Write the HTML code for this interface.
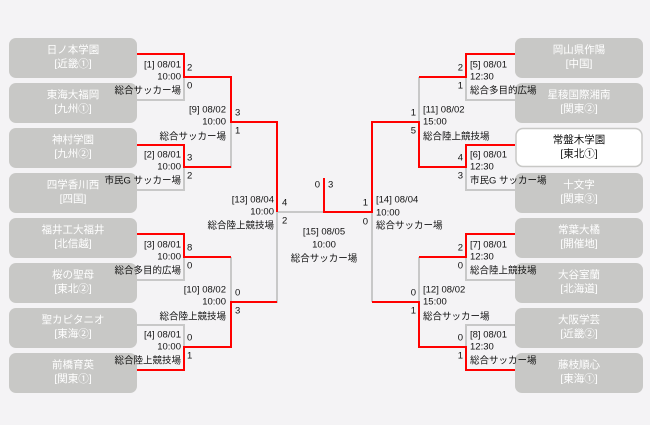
<!DOCTYPE html>
<html><head><meta charset="utf-8"><style>
html,body{margin:0;padding:0;background:#f4f3f5;}
svg{display:block;}
text{font-family:"Liberation Sans","Noto Sans CJK JP",sans-serif;font-size:9.5px;fill:#111;dominant-baseline:central;}
.bt{fill:#fff;font-size:10.5px;text-anchor:middle;}
.bk{fill:#111;font-size:10.5px;text-anchor:middle;}
.r{text-anchor:end;}
.m{text-anchor:middle;}
</style></head><body>
<svg width="650" height="425" viewBox="0 0 650 425" xmlns="http://www.w3.org/2000/svg">
<rect width="650" height="425" fill="#f4f3f5"/>
<g fill="#c8c8c6">
<rect x="9" y="38" width="128" height="40" rx="7"/>
<rect x="9" y="83" width="128" height="40" rx="7"/>
<rect x="9" y="128" width="128" height="40" rx="7"/>
<rect x="9" y="173" width="128" height="40" rx="7"/>
<rect x="9" y="218" width="128" height="40" rx="7"/>
<rect x="9" y="263" width="128" height="40" rx="7"/>
<rect x="9" y="308" width="128" height="40" rx="7"/>
<rect x="9" y="353" width="128" height="40" rx="7"/>
<rect x="515" y="38" width="128" height="40" rx="7"/>
<rect x="515" y="83" width="128" height="40" rx="7"/>
<rect x="515" y="173" width="128" height="40" rx="7"/>
<rect x="515" y="218" width="128" height="40" rx="7"/>
<rect x="515" y="263" width="128" height="40" rx="7"/>
<rect x="515" y="308" width="128" height="40" rx="7"/>
<rect x="515" y="353" width="128" height="40" rx="7"/>
</g>
<rect x="516" y="128.5" width="126" height="38" rx="7" fill="#fff" stroke="#c8c8c6" stroke-width="1.5"/>
<g class="bt">
<text class="bt" x="73" y="50">日ノ本学園</text><text class="bt" x="73" y="64">[近畿①]</text>
<text class="bt" x="73" y="95">東海大福岡</text><text class="bt" x="73" y="109">[九州①]</text>
<text class="bt" x="73" y="140">神村学園</text><text class="bt" x="73" y="154">[九州②]</text>
<text class="bt" x="73" y="185">四学香川西</text><text class="bt" x="73" y="199">[四国]</text>
<text class="bt" x="73" y="230">福井工大福井</text><text class="bt" x="73" y="244">[北信越]</text>
<text class="bt" x="73" y="275">桜の聖母</text><text class="bt" x="73" y="289">[東北②]</text>
<text class="bt" x="73" y="320">聖カピタニオ</text><text class="bt" x="73" y="334">[東海②]</text>
<text class="bt" x="73" y="365">前橋育英</text><text class="bt" x="73" y="379">[関東①]</text>
<text class="bt" x="579" y="50">岡山県作陽</text><text class="bt" x="579" y="64">[中国]</text>
<text class="bt" x="579" y="95">星稜国際湘南</text><text class="bt" x="579" y="109">[関東②]</text>
<text class="bk" x="579" y="140">常盤木学園</text><text class="bk" x="579" y="154">[東北①]</text>
<text class="bt" x="579" y="185">十文字</text><text class="bt" x="579" y="199">[関東③]</text>
<text class="bt" x="579" y="230">常葉大橘</text><text class="bt" x="579" y="244">[開催地]</text>
<text class="bt" x="579" y="275">大谷室蘭</text><text class="bt" x="579" y="289">[北海道]</text>
<text class="bt" x="579" y="320">大阪学芸</text><text class="bt" x="579" y="334">[近畿②]</text>
<text class="bt" x="579" y="365">藤枝順心</text><text class="bt" x="579" y="379">[東海①]</text>
</g>
<g fill="none" stroke="#c8c8c8" stroke-width="2">
<path d="M137 100H184V77"/>
<path d="M137 190H184V167"/>
<path d="M137 280H184V257"/>
<path d="M137 325H184V347"/>
<path d="M231 122V167H184"/>
<path d="M231 257V302"/>
<path d="M277 212V302H231"/>
<path d="M277 212H324"/>
<path d="M515 100H466V77"/>
<path d="M515 190H466V167"/>
<path d="M515 280H466V257"/>
<path d="M515 325H466V347"/>
<path d="M419 77V122"/>
<path d="M419 257V302"/>
<path d="M372 212V302"/>
</g>
<g fill="none" stroke="#ff0000" stroke-width="2">
<path d="M137 54H184V77H231V122H277V212"/>
<path d="M137 145H184V167H231"/>
<path d="M137 234H184V257H231"/>
<path d="M137 370H184V347H231V302H277"/>
<path d="M515 54H466V77H419"/>
<path d="M515 145H466V167H419V122H372V212H324V178"/>
<path d="M515 234H466V257H419"/>
<path d="M515 370H466V347H419V302H372"/>
</g>
<text class="r" x="181" y="65">[1] 08/01</text><text class="r" x="181" y="77">10:00</text><text class="r" x="181" y="91">総合サッカー場</text>
<text x="187" y="68">2</text><text x="187" y="86">0</text>
<text class="r" x="181" y="155">[2] 08/01</text><text class="r" x="181" y="167">10:00</text><text class="r" x="181" y="181">市民G サッカー場</text>
<text x="187" y="158">3</text><text x="187" y="176">2</text>
<text class="r" x="181" y="245">[3] 08/01</text><text class="r" x="181" y="257">10:00</text><text class="r" x="181" y="271">総合多目的広場</text>
<text x="187" y="248">8</text><text x="187" y="266">0</text>
<text class="r" x="181" y="335">[4] 08/01</text><text class="r" x="181" y="347">10:00</text><text class="r" x="181" y="361">総合陸上競技場</text>
<text x="187" y="338">0</text><text x="187" y="356">1</text>
<text class="r" x="226" y="110">[9] 08/02</text><text class="r" x="226" y="122">10:00</text><text class="r" x="226" y="137">総合サッカー場</text>
<text x="235" y="113">3</text><text x="235" y="131">1</text>
<text class="r" x="226" y="290">[10] 08/02</text><text class="r" x="226" y="302">10:00</text><text class="r" x="226" y="317">総合陸上競技場</text>
<text x="235" y="293">0</text><text x="235" y="311">3</text>
<text class="r" x="274" y="200">[13] 08/04</text><text class="r" x="274" y="212">10:00</text><text class="r" x="274" y="226">総合陸上競技場</text>
<text x="282" y="203">4</text><text x="282" y="221">2</text>
<text class="r" x="320" y="185">0</text><text x="328" y="185">3</text>
<text class="m" x="324" y="232">[15] 08/05</text><text class="m" x="324" y="245">10:00</text><text class="m" x="324" y="259">総合サッカー場</text>
<text x="376" y="200">[14] 08/04</text><text x="376" y="213">10:00</text><text x="376" y="226">総合サッカー場</text>
<text class="r" x="368" y="203">1</text><text class="r" x="368" y="222">0</text>
<text x="423" y="110">[11] 08/02</text><text x="423" y="122">15:00</text><text x="423" y="137">総合陸上競技場</text>
<text class="r" x="416" y="113">1</text><text class="r" x="416" y="131">5</text>
<text x="423" y="290">[12] 08/02</text><text x="423" y="302">15:00</text><text x="423" y="317">総合サッカー場</text>
<text class="r" x="416" y="293">0</text><text class="r" x="416" y="311">1</text>
<text x="470" y="65">[5] 08/01</text><text x="470" y="77">12:30</text><text x="470" y="91">総合多目的広場</text>
<text class="r" x="463" y="68">2</text><text class="r" x="463" y="86">1</text>
<text x="470" y="155">[6] 08/01</text><text x="470" y="167">12:30</text><text x="470" y="181">市民G サッカー場</text>
<text class="r" x="463" y="158">4</text><text class="r" x="463" y="176">3</text>
<text x="470" y="245">[7] 08/01</text><text x="470" y="257">12:30</text><text x="470" y="271">総合陸上競技場</text>
<text class="r" x="463" y="248">2</text><text class="r" x="463" y="266">0</text>
<text x="470" y="335">[8] 08/01</text><text x="470" y="347">12:30</text><text x="470" y="361">総合サッカー場</text>
<text class="r" x="463" y="338">0</text><text class="r" x="463" y="356">1</text>
</svg>
</body></html>
